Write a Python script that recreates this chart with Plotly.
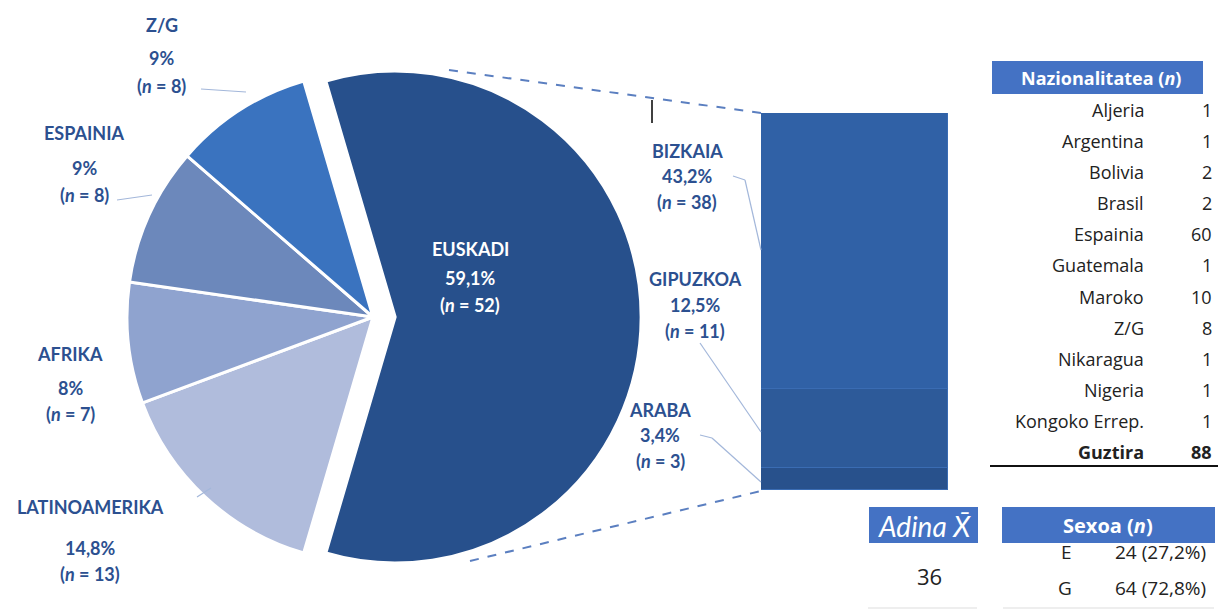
import plotly.graph_objects as go

# Pie: origin of participants
pie_labels = ['EUSKADI', 'LATINOAMERIKA', 'AFRIKA', 'ESPAINIA', 'Z/G']
pie_values = [52, 13, 7, 8, 8]
pie_pct = ['59,1%', '14,8%', '8%', '9%', '9%']
pie_colors = ['#27508c', '#b0bcdc', '#8fa3cf', '#6c88bb', '#3a73bf']

# Bar: breakdown of EUSKADI
bar_labels = ['ARABA', 'GIPUZKOA', 'BIZKAIA']
bar_values = [3, 11, 38]
bar_pct = ['3,4%', '12,5%', '43,2%']
bar_colors = ['#28518c', '#2d5a99', '#3061a6']

# Nationality table
nat_names = ['Aljeria', 'Argentina', 'Bolivia', 'Brasil', 'Espainia', 'Guatemala',
             'Maroko', 'Z/G', 'Nikaragua', 'Nigeria', 'Kongoko Errep.']
nat_counts = [1, 1, 2, 2, 60, 1, 10, 8, 1, 1, 1]

age_mean = 36
sex_labels = ['E', 'G']
sex_counts = [24, 64]
sex_pct = ['27,2%', '72,8%']

W, H = 1220, 610
LABEL_COLOR = '#2c5090'
HEAD_BLUE = '#4472c4'
FONT = 'Lato'
TFONT = 'Open Sans'


def px(x, y):
    return x / W, 1 - y / H


# label positions in pixels: x, y of name, pct and n lines
pie_label_pos = {
    'Z/G': (162, 25, 58, 86),
    'ESPAINIA': (84, 133, 168, 195),
    'AFRIKA': (70, 354, 388, 414),
    'LATINOAMERIKA': (90, 507, 548, 574),
    'EUSKADI': (470, 249, 278, 305),
}
bar_label_pos = {
    'BIZKAIA': (687, 151, 176, 202),
    'GIPUZKOA': (695, 279, 305, 331),
    'ARABA': (660, 410, 435, 461),
}

fig = go.Figure()

# pie centred at (373, 317), EUSKADI pulled out
pull = 0.09
half = 246 * (1 + pull)
cx, cy = 373, 317
fig.add_trace(go.Pie(
    labels=pie_labels, values=pie_values, sort=False,
    direction='clockwise', rotation=-360 * pie_values[0] / sum(pie_values) / 2 + 90,
    pull=[pull, 0, 0, 0, 0],
    marker=dict(colors=pie_colors, line=dict(color='white', width=3)),
    textinfo='none', hoverinfo='label+value', showlegend=False,
    domain=dict(x=[(cx - half) / W, (cx + half) / W],
                y=[1 - (cy + half) / H, 1 - (cy - half) / H]),
))

for name, val, col in zip(bar_labels, bar_values, bar_colors):
    fig.add_trace(go.Bar(
        x=['EUSKADI'], y=[val], name=name, xaxis='x2', yaxis='y2',
        marker=dict(color=col, line=dict(color='#3a6cb3', width=1)),
        width=1, showlegend=False,
    ))

ann = []


def add_label(x, ys, lines, color=LABEL_COLOR, size=18):
    for y, t in zip(ys, lines):
        ax, ay = px(x, y)
        ann.append(dict(x=ax, y=ay, xref='paper', yref='paper', text=t,
                        showarrow=False, xanchor='center', yanchor='middle',
                        font=dict(family=FONT, size=size, color=color)))


for lab, val, pct in zip(pie_labels, pie_values, pie_pct):
    x, y1, y2, y3 = pie_label_pos[lab]
    col = 'white' if lab == 'EUSKADI' else LABEL_COLOR
    add_label(x, (y1, y2, y3),
              [f'<b>{lab}</b>', f'<b>{pct}</b>', f'<b>(<i>n</i> = {val})</b>'], col)

for lab, val, pct in zip(bar_labels, bar_values, bar_pct):
    x, y1, y2, y3 = bar_label_pos[lab]
    add_label(x, (y1, y2, y3),
              [f'<b>{lab}</b>', f'<b>{pct}</b>', f'<b>(<i>n</i> = {val})</b>'])

# nationality table
shapes = []


def rect(x0, y0, x1, y1, color):
    a0, b0 = px(x0, y1)
    a1, b1 = px(x1, y0)
    shapes.append(dict(type='rect', xref='paper', yref='paper', x0=a0, y0=b0,
                       x1=a1, y1=b1, fillcolor=color, line=dict(width=0), layer='below'))


def line(x0, y0, x1, y1, color, width=1, dash='solid'):
    a0, b0 = px(x0, y0)
    a1, b1 = px(x1, y1)
    shapes.append(dict(type='line', xref='paper', yref='paper', x0=a0, y0=b0,
                       x1=a1, y1=b1, line=dict(color=color, width=width, dash=dash)))


def text(x, y, t, size=18, color='#222222', anchor='right', family=TFONT):
    ax, ay = px(x, y)
    ann.append(dict(x=ax, y=ay, xref='paper', yref='paper', text=t, showarrow=False,
                    xanchor=anchor, yanchor='middle',
                    font=dict(family=family, size=size, color=color)))


rect(992, 61, 1203, 94, HEAD_BLUE)
text(1101, 78, '<b>Nazionalitatea (<i>n</i>)</b>', 18, 'white', 'center')
row_y = [110 + 31.1 * i for i in range(len(nat_names) + 1)]
for y, name, n in zip(row_y, nat_names, nat_counts):
    text(1146, y, name)
    text(1214, y, str(n))
text(1146, row_y[-1], '<b>Guztira</b>')
text(1214, row_y[-1], f'<b>{sum(nat_counts)}</b>')
line(990, 466, 1218, 466, '#111111', 2)

# age / sex tables
rect(869, 507, 978, 543, HEAD_BLUE)
text(924, 526, '<i>Adina X\u0304</i>', 28, 'white', 'center', FONT)
text(929, 576, str(age_mean), 22, '#222222', 'center')
rect(1002, 507, 1215, 543, HEAD_BLUE)
text(1108, 525, '<b>Sexoa (<i>n</i>)</b>', 20, 'white', 'center')
for y, s, n, p in zip([552, 588], sex_labels, sex_counts, sex_pct):
    text(1074, y, s, 19)
    text(1208, y, f'{n} ({p})', 19)
line(868, 608, 977, 608, '#dddddd', 1)
line(1003, 608, 1214, 608, '#dddddd', 1)

# connectors from pie to bar
line(449, 70, 761, 113, '#5b7fc0', 2, 'dash')
line(470, 561, 761, 491, '#5b7fc0', 2, 'dash')

# leader lines
lead = '#a3b7da'
line(201, 89, 246, 92, lead, 1.2)
line(117, 200, 152, 195, lead, 1.2)
line(197, 497, 211, 488, lead, 1.2)
line(733, 176, 745, 180, lead, 1.2)
line(745, 180, 761, 250, lead, 1.2)
line(700, 343, 761, 432, lead, 1.2)
line(700, 435, 712, 438, lead, 1.2)
line(712, 438, 761, 482, lead, 1.2)

# stray cursor mark
line(652, 100, 652, 123, '#000000', 1.5)

bx0, bx1 = 761 / W, 948 / W
by0, by1 = 1 - 490 / H, 1 - 113 / H
fig.update_layout(
    width=W, height=H,
    margin=dict(l=0, r=0, t=0, b=0),
    paper_bgcolor='white', plot_bgcolor='white',
    barmode='stack', bargap=0,
    xaxis2=dict(domain=[bx0, bx1], range=[-0.5, 0.5], visible=False, anchor='y2'),
    yaxis2=dict(domain=[by0, by1], range=[0, sum(bar_values)], visible=False, anchor='x2'),
    annotations=ann, shapes=shapes,
    font=dict(family=FONT),
)

fig.write_html('out.html', config={'displayModeBar': False},
               post_script="document.body.style.margin='0px';")
